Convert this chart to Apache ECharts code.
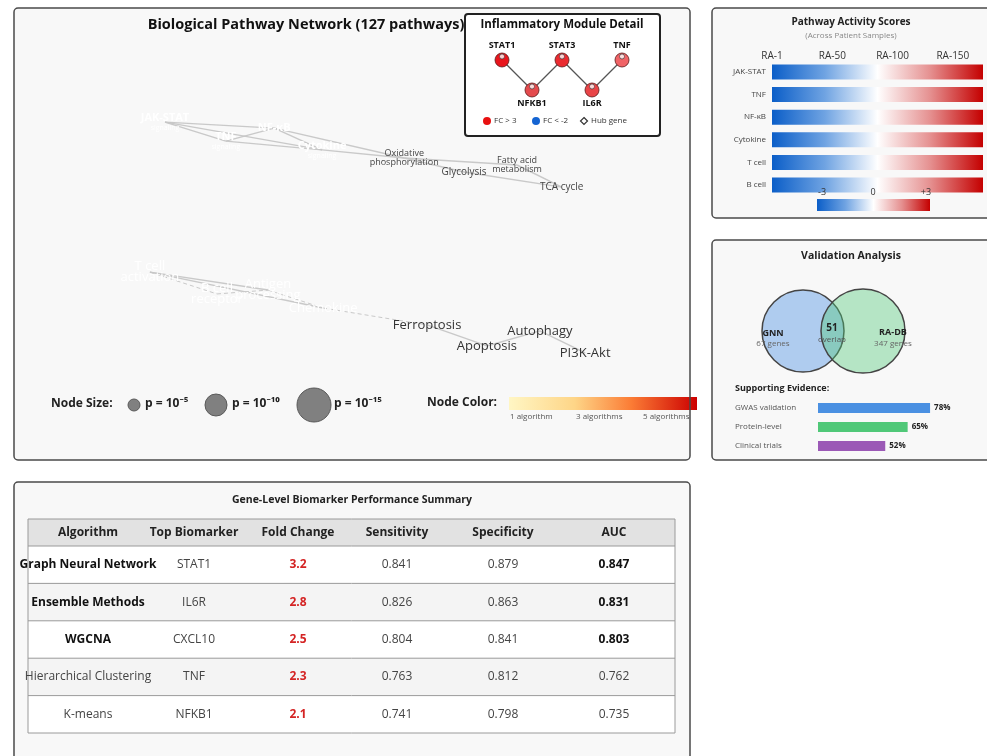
<!DOCTYPE html>
<html><head><meta charset="utf-8">
<script src="https://cdn.jsdelivr.net/npm/echarts@6/dist/echarts.min.js"></script>
<style>html,body{margin:0;padding:0;background:#fff}#chart{width:987px;height:756px}</style>
</head><body><div id="chart"></div>
<script>
// ---- Pathway network (layout coordinates in 0..100 units) ----
const pathwayNames = ['JAK-STAT','NF-κB','TNF','Cytokine','Oxidative phosphorylation','Glycolysis','Fatty acid metabolism','TCA cycle',
  'T cell activation','Antigen processing','B cell receptor','Chemokine','Ferroptosis','Apoptosis','Autophagy','PI3K-Akt'];
const pathwayLabels = ['JAK-STAT','NF-κB','TNF','Cytokine','Oxidative\nphosphorylation','Glycolysis','Fatty acid\nmetabolism','TCA cycle',
  'T cell\nactivation','Antigen\nprocessing','B cell\nreceptor','Chemokine','Ferroptosis','Apoptosis','Autophagy','PI3K-Akt'];
const pathwaySubtitles = ['signaling','','signaling','signaling','','','','','','','','','','','',''];
const pathwayClass = ['signaling','signaling','signaling','signaling','metabolic','metabolic','metabolic','metabolic',
  'immune','immune','immune','immune','death','death','death','death'];
const pathwayLayoutX = [12.5,33.5,24.2,42.7,58.5,70.0,80.2,88.8, 9.6,32.3,22.5,42.9, 62.9,74.4,84.6,93.3];
const pathwayLayoutY = [8.5,10.8,15.8,19.2,22.3,27.7,25.0,33.5, 66.2,73.1,74.6,80.0, 86.5,94.6,88.8,97.3];
// [source, target, evidence: 'v' validated / 'p' predicted]
const pathwayLinks = [[0,1,'v'],[0,2,'v'],[0,3,'v'],[2,1,'v'],[2,3,'v'],[1,3,'v'],[1,4,'v'],[3,4,'v'],
  [4,6,'v'],[4,5,'v'],[5,7,'v'],[6,7,'v'],
  [8,9,'v'],[8,10,'p'],[10,9,'p'],[8,11,'v'],[9,11,'p'],[11,12,'p'],[12,13,'v'],[13,14,'v'],[14,15,'v']];

// ---- Inflammatory module ----
const moduleGenes = ['STAT1','NFKB1','STAT3','IL6R','TNF'];
const moduleCol = [0,1,2,3,4];
const moduleRow = [0,1,0,1,0];
const moduleFoldChange = [3.2,2.1,3.0,2.8,2.3];
const moduleLinks = [['STAT1','NFKB1'],['STAT3','NFKB1'],['STAT3','IL6R'],['TNF','IL6R']];
const moduleLegend = ['FC > 3','FC < -2','Hub gene'];

// ---- Pathway activity ----
const activityPathways = ['JAK-STAT','TNF','NF-κB','Cytokine','T cell','B cell'];
const sampleHeaders = ['RA-1','RA-50','RA-100','RA-150'];
const patientCount = 150;
const scoreTicks = ['-3','0','+3'];

// ---- Validation ----
const vennSets = ['GNN','RA-DB'];
const vennCounts = [67,347];
const vennOverlap = 51;
const evidenceNames = ['GWAS validation','Protein-level','Clinical trials'];
const evidencePct = [78,65,52];

// ---- Node legend ----
const sizeLegend = ['p = 10⁻⁵','p = 10⁻¹⁰','p = 10⁻¹⁵'];
const colorLegend = ['1 algorithm','3 algorithms','5 algorithms'];

// ---- Biomarker table ----
const tableHeaders = ['Algorithm','Top Biomarker','Fold Change','Sensitivity','Specificity','AUC'];
const algorithms = ['Graph Neural Network','Ensemble Methods','WGCNA','Hierarchical Clustering','K-means'];
const topBiomarkers = ['STAT1','IL6R','CXCL10','TNF','NFKB1'];
const foldChanges = [3.2,2.8,2.5,2.3,2.1];
const sensitivities = [0.841,0.826,0.804,0.763,0.741];
const specificities = [0.879,0.863,0.841,0.812,0.798];
const aucs = [0.847,0.831,0.803,0.762,0.735];

const FONT = '"Open Sans", "Noto Sans", sans-serif';
const chart = echarts.init(document.getElementById('chart'));

function txt(x, y, text, font, fill, align, z) {
  return { type: 'text', z: z || 60, silent: true,
    style: { x, y, text, font: font + ' ' + FONT, fill: fill || '#222',
      align: align || 'center', verticalAlign: 'middle', textAlign: align || 'center', textVerticalAlign: 'middle' } };
}
function panelFill(x, y, w, h) {
  return { type: 'rect', z: 0, silent: true, shape: { x, y, width: w, height: h, r: 4 }, style: { fill: '#f8f8f8' } };
}
function panelBorder(x, y, w, h) {
  return { type: 'rect', z: 80, silent: true, shape: { x, y, width: w, height: h, r: 4 },
    style: { fill: 'none', stroke: '#4a4a4a', lineWidth: 1.5 } };
}

const heatStops = [
  { offset: 0, color: '#0b5ec8' }, { offset: 0.25, color: '#6fa3e2' }, { offset: 0.5, color: '#ffffff' },
  { offset: 0.75, color: '#e59090' }, { offset: 1, color: '#c40000' }
];

const g = [];
// panels
g.push(panelFill(14, 8, 676, 452), panelBorder(14, 8, 676, 452));
g.push(panelFill(712, 8, 290, 210), panelBorder(712, 8, 290, 210));
g.push(panelFill(712, 240, 290, 220), panelBorder(712, 240, 290, 220));
g.push(panelFill(14, 482, 676, 300), panelBorder(14, 482, 676, 300));

// network title
g.push(txt(306, 25, 'Biological Pathway Network (127 pathways)', 'bold 14.5px', '#111'));

// inflammatory module box
g.push({ type: 'rect', z: 1, silent: true, shape: { x: 465, y: 14, width: 195, height: 122, r: 3 }, style: { fill: '#fff' } });
g.push({ type: 'rect', z: 81, silent: true, shape: { x: 465, y: 14, width: 195, height: 122, r: 3 }, style: { fill: 'none', stroke: '#222', lineWidth: 2 } });
g.push(txt(562, 25, 'Inflammatory Module Detail', 'bold 11.5px', '#111'));
g.push({ type: 'circle', z: 60, shape: { cx: 487, cy: 121, r: 4 }, style: { fill: '#e81010' } });
g.push(txt(494, 121, moduleLegend[0], '8px', '#333', 'left'));
g.push({ type: 'circle', z: 60, shape: { cx: 536, cy: 121, r: 4 }, style: { fill: '#1464d2' } });
g.push(txt(543, 121, moduleLegend[1], '8px', '#333', 'left'));
g.push({ type: 'polygon', z: 60, shape: { points: [[584,117.5],[587.5,121],[584,124.5],[580.5,121]] }, style: { fill: '#fff', stroke: '#333', lineWidth: 1.2 } });
g.push(txt(591, 121, moduleLegend[2], '8px', '#333', 'left'));

// node size legend
g.push(txt(51, 404, 'Node Size:', 'bold 12px', '#222', 'left'));
const sizeR = [6, 11, 17], sizeCx = [134, 216, 314], sizeTx = [145, 232, 334];
sizeLegend.forEach((s, i) => {
  g.push({ type: 'circle', z: 60, shape: { cx: sizeCx[i], cy: 405, r: sizeR[i] }, style: { fill: '#808080', stroke: '#5a5a5a', lineWidth: 1 } });
  g.push(txt(sizeTx[i], 404, s, 'bold 12px', '#222', 'left'));
});
// node colour legend
g.push(txt(427, 403, 'Node Color:', 'bold 12px', '#222', 'left'));
g.push({ type: 'rect', z: 60, shape: { x: 509, y: 397, width: 188, height: 13 },
  style: { fill: new echarts.graphic.LinearGradient(0, 0, 1, 0, [
    { offset: 0, color: '#fff6c4' }, { offset: 0.35, color: '#fed587' }, { offset: 0.65, color: '#fb7c35' }, { offset: 1, color: '#cc0000' }]) } });
const colorTx = [510, 576, 643];
colorLegend.forEach((s, i) => g.push(txt(colorTx[i], 417, s, '8px', '#555', 'left')));

// pathway activity panel
g.push(txt(851, 22, 'Pathway Activity Scores', 'bold 10px', '#222'));
g.push(txt(851, 36, '(Across Patient Samples)', '8px', '#888'));
g.push({ type: 'rect', z: 60, shape: { x: 817, y: 199, width: 113, height: 12 },
  style: { fill: new echarts.graphic.LinearGradient(0, 0, 1, 0, heatStops) } });
const tickX = [822, 873, 926];
scoreTicks.forEach((s, i) => g.push(txt(tickX[i], 192, s, '9px', '#333')));

// validation panel
g.push(txt(851, 256, 'Validation Analysis', 'bold 10.5px', '#222'));
g.push({ type: 'circle', z: 10, shape: { cx: 803, cy: 331, r: 41 }, style: { fill: 'rgba(74,144,226,0.42)', stroke: '#444', lineWidth: 1.5 } });
g.push({ type: 'circle', z: 11, shape: { cx: 863, cy: 331, r: 42 }, style: { fill: 'rgba(80,200,120,0.40)', stroke: '#444', lineWidth: 1.5 } });
g.push(txt(773, 333, vennSets[0], 'bold 9px', '#222'));
g.push(txt(773, 344, vennCounts[0] + ' genes', '8px', '#666'));
g.push(txt(832, 328, String(vennOverlap), 'bold 10px', '#222'));
g.push(txt(832, 340, 'overlap', '8px', '#555'));
g.push(txt(893, 332, vennSets[1], 'bold 9px', '#222'));
g.push(txt(893, 344, vennCounts[1] + ' genes', '8px', '#666'));
g.push(txt(735, 388, 'Supporting Evidence:', 'bold 9px', '#222', 'left'));

// biomarker table
g.push(txt(352, 500, 'Gene-Level Biomarker Performance Summary', 'bold 10.5px', '#222'));
const tX = 28, tW = 647, hdrY = 519, hdrH = 27, rowH = 37.4;
const colX = [88, 194, 298, 397, 503, 614];
g.push({ type: 'rect', z: 20, shape: { x: tX, y: hdrY, width: tW, height: hdrH }, style: { fill: '#e2e2e2' } });
tableHeaders.forEach((h, c) => g.push(txt(colX[c], hdrY + hdrH / 2, h, 'bold 12px', '#222')));
algorithms.forEach((a, r) => {
  const y0 = hdrY + hdrH + r * rowH, cy = y0 + rowH / 2;
  const strong = r < 3;
  g.push({ type: 'rect', z: 20, shape: { x: tX, y: y0, width: tW, height: rowH }, style: { fill: r % 2 ? '#f4f4f4' : '#ffffff' } });
  g.push({ type: 'line', z: 25, shape: { x1: tX, y1: y0, x2: tX + tW, y2: y0 }, style: { stroke: '#9a9a9a', lineWidth: 1 } });
  g.push(txt(colX[0], cy, a, (strong ? 'bold ' : '') + '12px', strong ? '#111' : '#444'));
  g.push(txt(colX[1], cy, topBiomarkers[r], '12px', '#444'));
  g.push(txt(colX[2], cy, foldChanges[r].toFixed(1), 'bold 12px', '#d42424'));
  g.push(txt(colX[3], cy, sensitivities[r].toFixed(3), '12px', '#444'));
  g.push(txt(colX[4], cy, specificities[r].toFixed(3), '12px', '#444'));
  g.push(txt(colX[5], cy, aucs[r].toFixed(3), (strong ? 'bold ' : '') + '12px', strong ? '#111' : '#444'));
});
g.push({ type: 'rect', z: 26, shape: { x: tX, y: hdrY, width: tW, height: hdrH + algorithms.length * rowH }, style: { fill: 'none', stroke: '#9a9a9a', lineWidth: 1 } });

// ---- series helpers ----
const labelStyles = {
  signaling: { t: { fontSize: 11, fontWeight: 'bold', fontFamily: FONT, color: '#fff', lineHeight: 12 },
               s: { fontSize: 7, fontFamily: FONT, color: '#fff', lineHeight: 9 } },
  metabolic: { t: { fontSize: 9, fontFamily: FONT, color: '#444', lineHeight: 9 } },
  immune: { t: { fontSize: 13, fontFamily: FONT, color: '#fff', lineHeight: 11 } },
  death: { t: { fontSize: 13, fontFamily: FONT, color: '#333', lineHeight: 14 } }
};
const bigMetabolic = { 'Glycolysis': 10, 'TCA cycle': 10 };

const networkNodes = pathwayNames.map((n, i) => {
  const st = labelStyles[pathwayClass[i]];
  const t = Object.assign({}, st.t);
  if (bigMetabolic[n]) t.fontSize = bigMetabolic[n];
  const lines = pathwayLabels[i].split('\n').map(l => '{t|' + l + '}');
  if (pathwaySubtitles[i]) lines.push('{s|' + pathwaySubtitles[i] + '}');
  return {
    name: n, value: [pathwayLayoutX[i], pathwayLayoutY[i]],
    label: { show: true, position: 'inside', align: 'center', verticalAlign: 'middle', formatter: lines.join('\n'),
      rich: { t: t, s: st.s || t } }
  };
});
const networkLinks = pathwayLinks.map(([s, t, k]) => ({
  source: pathwayNames[s], target: pathwayNames[t],
  lineStyle: { type: k === 'p' ? [4, 3] : 'solid', width: k === 'p' ? 1 : 1.4 }
}));

const fcColor = fc => fc >= 3.1 ? '#e8151c' : fc >= 2.9 ? '#ea2b30' : fc >= 2.5 ? '#e94447' : fc >= 2.2 ? '#f06366' : '#e44a4d';
const moduleNodes = moduleGenes.map((n, i) => ({
  name: n, value: [moduleCol[i], moduleRow[i]],
  itemStyle: { color: fcColor(moduleFoldChange[i]), borderColor: '#5a1a1a', borderWidth: 0.8 },
  label: { show: true, position: moduleRow[i] === 0 ? 'top' : 'bottom', distance: moduleRow[i] === 0 ? 3 : 2,
    fontSize: 9, fontWeight: 'bold', fontFamily: FONT, color: '#111' }
}));

const hidden = { show: false };
const option = {
  animation: false,
  backgroundColor: '#ffffff',
  graphic: { elements: g },
  grid: [
    { left: 100, top: 100, width: 520, height: 260 },
    { left: 502, top: 60, width: 120, height: 30 },
    { left: 772, top: 60.7, width: 211, height: 135.6 },
    { left: 818, top: 398.5, width: 150, height: 57 }
  ],
  xAxis: [
    { gridIndex: 0, type: 'value', min: 0, max: 100, show: false },
    { gridIndex: 1, type: 'value', min: 0, max: 4, show: false },
    { gridIndex: 2, type: 'value', min: 0, max: patientCount, show: false },
    { gridIndex: 2, type: 'value', position: 'top', min: 0, max: 3.5, interval: 1,
      axisLine: hidden, axisTick: hidden, splitLine: hidden,
      axisLabel: { margin: 0, fontSize: 10, color: '#333', fontFamily: FONT,
        formatter: v => sampleHeaders[v] || '' } },
    { gridIndex: 3, type: 'value', min: 13, max: 100, show: false }
  ],
  yAxis: [
    { gridIndex: 0, type: 'value', min: 0, max: 100, inverse: true, show: false },
    { gridIndex: 1, type: 'value', min: 0, max: 1, inverse: true, show: false },
    { gridIndex: 2, type: 'category', inverse: true, data: activityPathways,
      axisLine: hidden, axisTick: hidden,
      axisLabel: { fontSize: 8, color: '#444', margin: 6, fontFamily: FONT } },
    { gridIndex: 3, type: 'category', inverse: true, data: evidenceNames,
      axisLine: hidden, axisTick: hidden,
      axisLabel: { fontSize: 8, color: '#555', margin: 83, align: 'left', fontFamily: FONT } }
  ],
  series: [
    {
      type: 'graph', coordinateSystem: 'cartesian2d', xAxisIndex: 0, yAxisIndex: 0,
      z: 5, silent: true, symbolSize: 1, itemStyle: { color: 'rgba(0,0,0,0)' },
      lineStyle: { color: '#c6c6c6', opacity: 0.95 },
      data: networkNodes, links: networkLinks
    },
    {
      type: 'graph', coordinateSystem: 'cartesian2d', xAxisIndex: 1, yAxisIndex: 1,
      z: 5, silent: true, symbolSize: 14,
      lineStyle: { color: '#555', width: 1.2, opacity: 1 },
      data: moduleNodes, links: moduleLinks.map(([s, t]) => ({ source: s, target: t }))
    },
    {
      type: 'scatter', xAxisIndex: 1, yAxisIndex: 1, z: 6, silent: true,
      symbolSize: 5, symbolOffset: [0, -3.5],
      itemStyle: { color: '#fff', borderColor: '#333', borderWidth: 0.8 },
      data: moduleGenes.map((n, i) => [moduleCol[i], moduleRow[i]])
    },
    {
      type: 'bar', xAxisIndex: 2, yAxisIndex: 2, barWidth: 15, silent: true, z: 5,
      itemStyle: { color: new echarts.graphic.LinearGradient(0, 0, 1, 0, heatStops) },
      data: activityPathways.map(() => patientCount)
    },
    {
      type: 'bar', xAxisIndex: 4, yAxisIndex: 3, barWidth: 10, silent: true, z: 5,
      data: evidencePct.map((v, i) => ({ value: v, itemStyle: { color: ['#4a90e2', '#50c878', '#9b59b6'][i] } })),
      label: { show: true, position: 'right', distance: 4, formatter: '{c}%', fontSize: 8, fontWeight: 'bold', color: '#222', fontFamily: FONT }
    }
  ]
};
chart.setOption(option);
</script></body></html>
